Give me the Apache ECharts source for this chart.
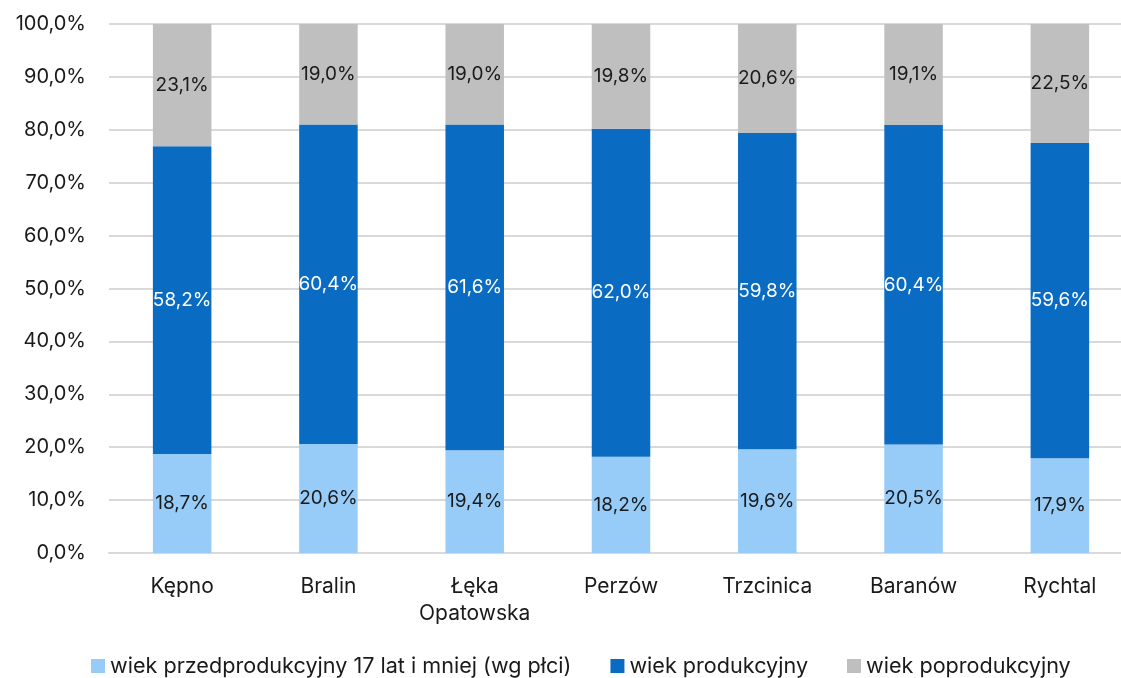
<!DOCTYPE html>
<html><head><meta charset="utf-8">
<script src="https://cdn.jsdelivr.net/npm/echarts@6/dist/echarts.min.js"></script>
<style>html,body{margin:0;padding:0;background:#fff}#c{width:1121px;height:678px}</style>
</head><body><div id="c"></div>
<script>
var categories = ['Kępno','Bralin','Łęka\nOpatowska','Perzów','Trzcinica','Baranów','Rychtal'];
var seriesNames = ['wiek przedprodukcyjny 17 lat i mniej (wg płci)','wiek produkcyjny','wiek poprodukcyjny'];
var preProd = [18.7,20.6,19.4,18.2,19.6,20.5,17.9];
var prod = [58.2,60.4,61.6,62.0,59.8,60.4,59.6];
var postProd = [23.1,19.0,19.0,19.8,20.6,19.1,22.5];
var colors = ['#97CCF8','#0A6BC2','#BFBFBF'];
var labelColors = ['#1a1a1a','#ffffff','#1a1a1a'];
var FONT = 'Inter';
function fmt(v){return v.toFixed(1).replace('.',',')+'%';}
var chart = echarts.init(document.getElementById('c'));
var data = [preProd, prod, postProd];
chart.setOption({
  animation:false,
  textStyle:{fontFamily:FONT},
  grid:{left:109,top:24,width:1024,bottom:125,containLabel:false,outerBoundsMode:'none'},
  legend:{top:650,left:86,padding:[5,5,5,5],itemWidth:14,itemHeight:14,itemGap:39,itemTextGap:5,icon:'rect',
    textStyle:{fontSize:21.6,color:'#1a1a1a',fontFamily:FONT}},
  xAxis:{type:'category',data:categories,
    axisLine:{lineStyle:{color:'#D9D9D9',width:2}},axisTick:{show:false},
    axisLabel:{fontSize:21,color:'#1a1a1a',margin:20,lineHeight:27,fontFamily:FONT}},
  yAxis:{type:'value',min:0,max:100,interval:10,
    axisLabel:{fontSize:20,color:'#1a1a1a',margin:23,fontFamily:FONT,formatter:function(v){return v.toFixed(1).replace('.',',')+'%';}},
    splitLine:{lineStyle:{color:'#D9D9D9',width:2}},axisLine:{show:false},axisTick:{show:false}},
  series:data.map(function(d,i){return {
    name:seriesNames[i],type:'bar',stack:'s',data:d,barWidth:'40%',
    itemStyle:{color:colors[i]},
    label:{show:true,position:'inside',fontSize:19,color:labelColors[i],fontFamily:FONT,
      formatter:function(p){return fmt(p.value);}}
  };})
});
</script></body></html>
